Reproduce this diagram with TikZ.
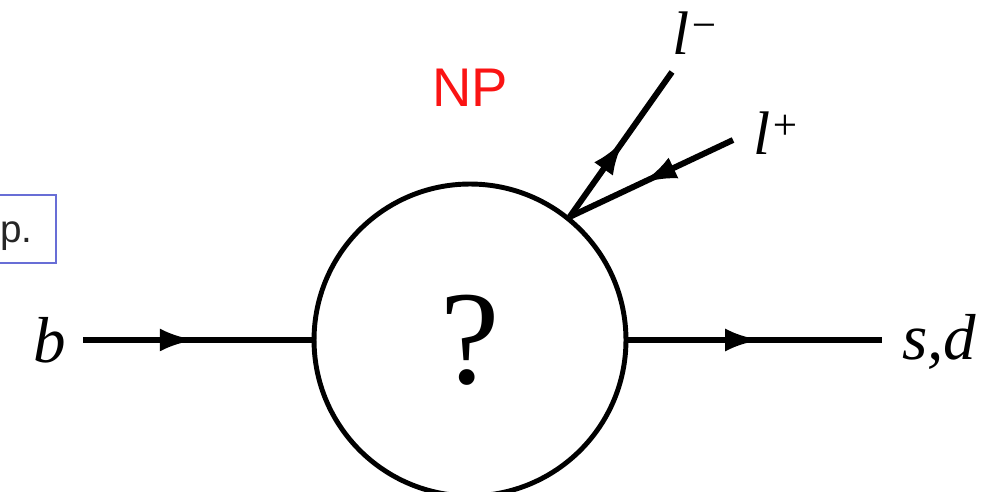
\documentclass[tikz,border=0pt]{standalone}
\usepackage{fontspec}
\setmainfont{Liberation Serif}
\newfontfamily\sansfont{Liberation Sans}
\usepackage{xcolor}
\usetikzlibrary{arrows.meta, decorations.markings, positioning}

\definecolor{boxblue}{RGB}{104,110,214}
\definecolor{npred}{RGB}{250,20,20}

\tikzset{
  leg/.style={line width=3.4pt},
  midarrow/.style={leg, postaction={decorate},
    decoration={markings, mark=at position #1 with {\arrow{Latex[length=20pt,width=13pt]}}}},
  ext/.style={font=\fontsize{37}{40}\selectfont\itshape, inner sep=0pt},
  lep/.style={font=\fontsize{35}{38}\selectfont\itshape, inner sep=0pt, anchor=base west},
}

\begin{document}
\begin{tikzpicture}[x=0.02cm, y=0.02cm]
    \clip (0,0) rectangle (986,492);
    \useasboundingbox (0,0) rectangle (986,492);

    % blob
    \node[circle, draw, line width=2.8pt, minimum size=6.24cm, inner sep=0pt,
          font=\fontsize{76}{80}\selectfont] (blob) at (470,152) {?};

    % external legs
    \node[ext] (b) at (50,152) {b};
    \coordinate (bend) at (83,152);
    \node[ext, anchor=base west] (sd) at (902,132) {s,d};
    \coordinate (sdend) at (882,152);
    \draw[midarrow=.49] (bend) -- (blob);
    \draw[midarrow=.52] (blob) -- (sdend);

    % lepton pair
    \coordinate (vtx) at (blob.51.5);
    \coordinate (lmend) at (672,420);
    \coordinate (lpend) at (733,352);
    \node[lep] (lm) at (672,437) {l\textsuperscript{−}};
    \node[lep] (lp) at (753,337) {l\textsuperscript{+}};
    \draw[midarrow=.53] (vtx) -- (lmend);
    \draw[midarrow=.56] (lpend) -- (vtx);

    \node[text=npred, font=\sansfont\fontsize{31}{34}\selectfont] (np) at (470,404) {NP};

    % cut-off box on the left
    \node[draw=boxblue, line width=1.1pt, anchor=north east,
          minimum width=2cm, minimum height=1.36cm] (pbox) at (57,298) {};
    \node[anchor=base east, inner sep=0pt, text=black!85,
          font=\sansfont\fontsize{22}{24}\selectfont] (ptext) at (33,249) {p.};
\end{tikzpicture}
\end{document}
